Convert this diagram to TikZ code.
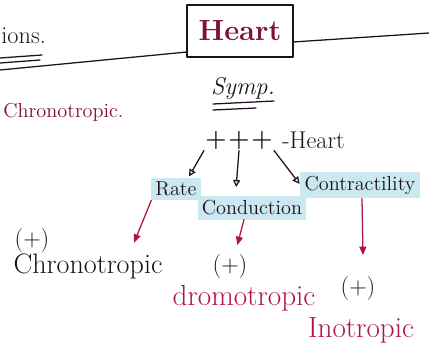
\documentclass[tikz,border=0pt]{standalone}
\usetikzlibrary{arrows.meta,calc}
\definecolor{inkred}{HTML}{B0154A}
\definecolor{inkmaroon}{HTML}{7E1236}
\definecolor{inkdark}{HTML}{1E1020}
\definecolor{hilite}{HTML}{CBE7EF}
\begin{document}
\begin{tikzpicture}[x=0.025cm, y=-0.025cm, line cap=round, line join=round,
    word/.style={inner sep=1pt, outer sep=0pt, font=\Large, text=inkdark},
    big/.style={word, font=\huge},
    tag/.style={word, fill=hilite, inner sep=3pt},
    pen/.style={line width=0.9pt, draw=inkdark},
    openarr/.style={pen, shorten >=1pt, -{Triangle[open, length=5pt, width=5pt]}},
    redarr/.style={line width=0.9pt, draw=inkred, shorten >=1pt,
      -{Triangle[length=6pt, width=5pt, fill=inkred]}}]
  \useasboundingbox (0,0) rectangle (429,356);
  \node[word, anchor=west, font=\LARGE] (ions) at (0,36) {ions.};
  \draw[pen] (0,58) -- (42,55);
  \draw[pen] (0,63) -- (40,60);
  \node[word, draw=inkdark, line width=1.1pt, minimum width=2.65cm, minimum height=1.3cm,
    text=inkmaroon, font=\huge\bfseries] (heart) at (240,31) {Heart};
  \draw[pen] (0,70) -- (heart.south west |- 0,52);
  \draw[pen] (heart.east |- 0,42) -- (429,33);
  \node[word, font=\LARGE\itshape] (symp) at (243,88) {Symp.};
  \draw[pen] (213,104) -- (274,101);
  \draw[pen] (213,110) -- (256,108);
  \node[word, anchor=west, font=\Large, text=inkmaroon] (chrol) at (2,112) {Chronotropic.};
  \node[word, font=\LARGE\bfseries] (p1) at (216,140) {+};
  \node[word, font=\LARGE\bfseries] (p2) at (239,140) {+};
  \node[word, font=\LARGE\bfseries] (p3) at (262,140) {+};
  \node[word, anchor=west, font=\LARGE] (hrt) at (281,140) {-Heart};
  \node[tag, font=\Large] (rate) at (176,189) {Rate};
  \node[tag] (cond) at (252,208) {Conduction};
  \node[tag] (contr) at (360,185) {Contractility};
  \draw[openarr] (p1.south west) -- ($(rate.north)!0.5!(rate.north east)$);
  \draw[openarr] (p2.south) -- ($(p2.south |- cond.north)+(-3,-8)$);
  \draw[openarr] (p3.south east) -- (contr.west);
  \node[word, font=\LARGE] (plus1) at (32,240) {(+)};
  \node[word, font=\fontsize{20}{24}\selectfont] (chro) at (88,266) {Chronotropic};
  \node[word, font=\LARGE] (plus2) at (230,266) {(+)};
  \node[big, text=inkred] (dromo) at (244,298) {dromotropic};
  \node[word, font=\LARGE] (plus3) at (358,288) {(+)};
  \node[big, text=inkred] (ino) at (361,330) {Inotropic};
  \draw[redarr] (rate.south west) -- ($(chro.north)!0.6!(chro.north east)+(0,-8)$);
  \draw[redarr] ($(cond.south)+(-8,0)$) -- ($(plus2.north)+(7,-6)$);
  \draw[redarr] ($(contr.south)+(2,0)$) -- ($(plus3.north)+(5,-18)$);
\end{tikzpicture}
\end{document}
